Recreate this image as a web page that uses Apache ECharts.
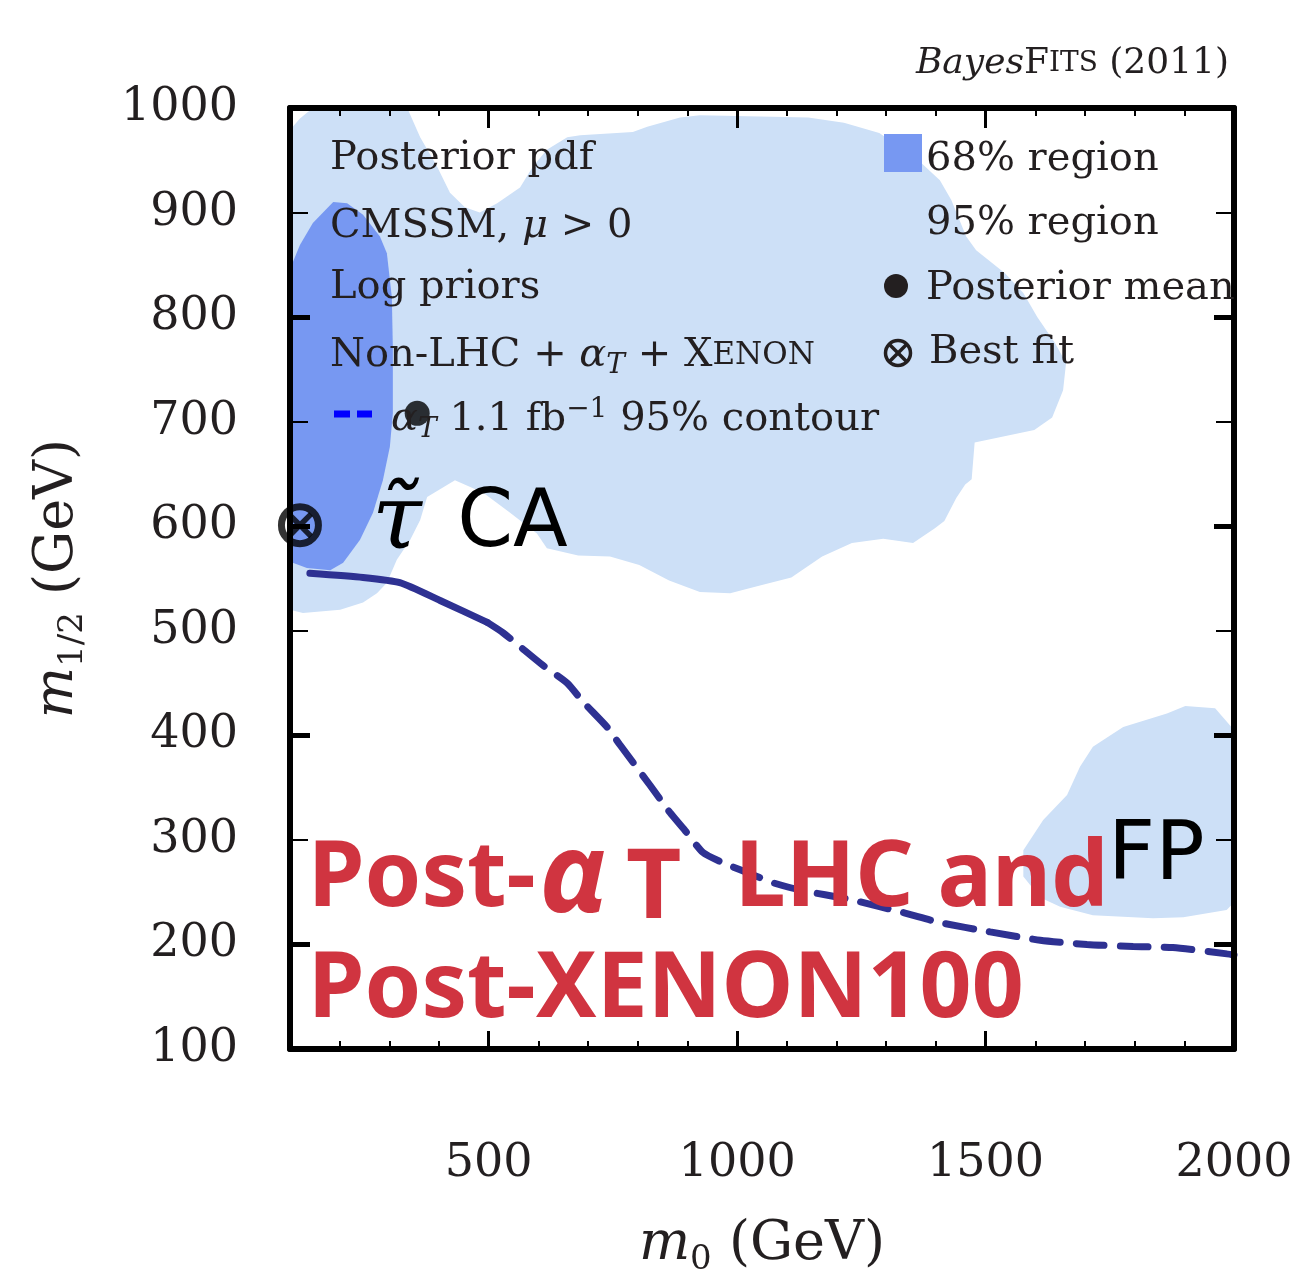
<!DOCTYPE html>
<html>
<head>
<meta charset="utf-8">
<title>CMSSM posterior, m0 - m1/2</title>
<script src="https://cdn.jsdelivr.net/npm/echarts@6/dist/echarts.min.js"></script>
<style>
    html, body { margin: 0; padding: 0; background: #fff; }
    #chart { width: 1309px; height: 1275px; }
</style>
</head>
<body>
<div id="chart"></div>
<script>
// 数据: [m0, m1/2] (GeV)
// 95% 区域 (主体, stau CA)
const region95Main = [
    [100, 979], [120, 990], [146, 1000], [336, 1000], [362, 972], [396, 944], [422, 919], [452, 905],
    [482, 900], [517, 909], [563, 924], [589, 944], [617, 960], [658, 972], [684, 974], [790, 977],
    [819, 982], [885, 991], [925, 993], [1143, 991], [1215, 986], [1286, 976], [1358, 953], [1408, 931],
    [1431, 912], [1461, 877], [1481, 864], [1539, 842], [1576, 823], [1604, 800], [1640, 775], [1662, 756],
    [1656, 730], [1634, 704], [1598, 692], [1478, 680], [1472, 645], [1459, 640], [1441, 627], [1417, 605],
    [1398, 598], [1354, 584], [1294, 588], [1231, 584], [1171, 571], [1109, 551], [1044, 543], [986, 536],
    [925, 537], [863, 548], [803, 563], [744, 571], [680, 572], [617, 579], [597, 593], [543, 613],
    [489, 632], [432, 644], [376, 628], [362, 606], [342, 587], [315, 568], [295, 546], [275, 536],
    [247, 527], [201, 520], [126, 517], [100, 520]
]
// 95% 区域 (FP)
const region95FP = [
    [1576, 290], [1616, 319], [1664, 343], [1690, 370], [1716, 389], [1777, 408], [1865, 421], [1902, 428],
    [1962, 426], [2000, 405], [2000, 240], [1985, 233], [1898, 226], [1837, 225], [1716, 228], [1650, 236],
    [1610, 245], [1576, 265]
]
// 68% 区域
const region68 = [
    [100, 840], [106, 853], [120, 869], [146, 890], [187, 910], [215, 909], [247, 898], [281, 877],
    [295, 861], [305, 819], [307, 771], [307, 708], [301, 676], [287, 644], [267, 613], [241, 587],
    [207, 565], [181, 558], [134, 560], [100, 566]
]
// alpha_T 1.1 fb^-1 95% contour
const contourAlphaT = [
    [140, 555], [247, 551], [321, 546], [402, 529], [497, 508], [529, 498], [609, 467], [658, 450],
    [690, 432], [738, 408], [764, 391], [825, 352], [865, 326], [895, 309], [931, 288], [972, 278],
    [1040, 265], [1072, 259], [1127, 252], [1227, 243], [1338, 230], [1408, 221], [1509, 212], [1610, 204],
    [1704, 200], [1797, 198], [1877, 197], [1986, 191], [2000, 190]
]
const posteriorMean = [[356, 708]]
const bestFit = [[120, 601]]

// 刻度
const xMinorTicks = [100, 200, 300, 400, 500, 600, 700, 800, 900, 1000, 1100, 1200, 1300, 1400, 1500, 1600, 1700, 1800, 1900, 2000]
const xMajorTicks = [500, 1000, 1500]
const xLabels = [500, 1000, 1500, 2000]
const yMajorTicks = [200, 400, 600, 800]

// 颜色
const c68 = '#7798f2'
const c95 = '#cde0f7'
const cLine = '#2e3192'
const cRed = '#d03440'
const cText = '#231f20'
const serif = 'DejaVu Serif'

// 多边形区域，用 custom series 画，坐标通过 api.coord 换算
function regionSeries(points, color, z) {
    return {
        type: 'custom',
        silent: true,
        z: z,
        data: [points[0]],
        renderItem: function (params, api) {
            return {
                type: 'polygon',
                shape: { points: points.map(p => api.coord(p)) },
                style: { fill: color }
            }
        }
    }
}

const baseAxis = {
    type: 'value',
    z: 10,
    splitLine: { show: false },
    axisLine: { show: false },
    axisLabel: { show: false },
    axisTick: { show: false }
}

function xAxisOf(pos, ticks, len, width, extra) {
    return Object.assign({}, baseAxis, {
        min: 100, max: 2000, position: pos,
        axisTick: { show: true, inside: true, length: len, customValues: ticks, lineStyle: { color: '#000', width: width } }
    }, extra || {})
}
function yAxisOf(pos, len, width, extra) {
    return Object.assign({}, baseAxis, {
        min: 100, max: 1000, interval: 100, position: pos,
        axisTick: { show: true, inside: true, length: len, lineStyle: { color: '#000', width: width } }
    }, extra || {})
}

const frameLine = { show: true, onZero: false, lineStyle: { color: '#000', width: 6 } }
const plain = v => String(v)

const nameRich = {
    n: { fontFamily: serif, fontSize: 54, color: cText, lineHeight: 64 },
    i: { fontFamily: serif, fontSize: 54, fontStyle: 'italic', color: cText, lineHeight: 64 },
    s: { fontFamily: serif, fontSize: 34, color: cText, lineHeight: 36, verticalAlign: 'bottom' }
}

// 图中文字，z 要比 series 高
function label(x, y, text, rich) {
    const st = rich ? { text: text, rich: rich } : { text: text, font: '40px "DejaVu Serif"', fill: cText }
    return { type: 'text', x: x, y: y, z: 100, style: st }
}
const legendRich = {
    n: { fontFamily: serif, fontSize: 40, fill: cText, lineHeight: 48 },
    i: { fontFamily: serif, fontSize: 40, fontStyle: 'italic', fill: cText, lineHeight: 48 },
    s: { fontFamily: serif, fontSize: 28, fontStyle: 'italic', fill: cText, lineHeight: 26, verticalAlign: 'bottom' },
    p: { fontFamily: serif, fontSize: 28, fill: cText, lineHeight: 26, verticalAlign: 'top' },
    sc: { fontFamily: serif, fontSize: 31, fill: cText, lineHeight: 48 }
}

const option = {
    animation: false,
    backgroundColor: '#fff',
    grid: { left: 290, right: 75, top: 108, bottom: 226, outerBoundsMode: 'none' },
    xAxis: [
        xAxisOf('bottom', xMinorTicks, 8, 2, {
            axisLine: frameLine,
            axisLabel: { show: true, customValues: xLabels, formatter: plain, margin: 92, fontFamily: serif, fontSize: 46, color: cText },
            name: '{i|m}{s|0}{n| (GeV)}',
            nameLocation: 'middle',
            nameGap: 164,
            nameTextStyle: { rich: nameRich }
        }),
        xAxisOf('bottom', xMajorTicks, 18, 3),
        xAxisOf('top', xMinorTicks, 8, 2, { axisLine: frameLine }),
        xAxisOf('top', xMajorTicks, 20, 3)
    ],
    yAxis: [
        yAxisOf('left', 18, 2, {
            axisLine: frameLine,
            axisLabel: { show: true, formatter: plain, margin: 52, fontFamily: serif, fontSize: 46, color: cText },
            name: '{i|m}{s|1/2}{n| (GeV)}',
            nameLocation: 'middle',
            nameRotate: 90,
            nameGap: 200,
            nameTextStyle: { rich: nameRich }
        }),
        yAxisOf('left', 20, 5, { axisTick: { show: true, inside: true, length: 20, customValues: yMajorTicks, lineStyle: { color: '#000', width: 5 } } }),
        yAxisOf('right', 18, 2, { axisLine: frameLine }),
        yAxisOf('right', 20, 5, { axisTick: { show: true, inside: true, length: 20, customValues: yMajorTicks, lineStyle: { color: '#000', width: 5 } } })
    ],
    series: [
        regionSeries(region95Main, c95, 1),
        regionSeries(region95FP, c95, 1),
        regionSeries(region68, c68, 2),
        {
            // 等高线开头一段是实线
            type: 'line',
            data: contourAlphaT.slice(0, 5),
            showSymbol: false,
            smooth: 0.2,
            z: 3,
            lineStyle: { color: cLine, width: 7, cap: 'round' }
        },
        {
            type: 'line',
            data: contourAlphaT.slice(4),
            showSymbol: false,
            smooth: 0.2,
            z: 3,
            lineStyle: { color: cLine, width: 7, type: [28, 16], cap: 'round' }
        },
        {
            // 后验均值
            type: 'scatter',
            data: posteriorMean,
            symbol: 'circle',
            symbolSize: 25,
            z: 4,
            itemStyle: { color: '#000' }
        },
        {
            // 最佳拟合 ⊗
            type: 'scatter',
            data: bestFit,
            symbol: 'circle',
            symbolSize: 37,
            z: 4,
            itemStyle: { color: 'rgba(0,0,0,0)', borderColor: '#000', borderWidth: 7 }
        },
        {
            type: 'scatter',
            data: bestFit,
            symbol: 'path://M0,1.5L1.5,0L5,3.5L8.5,0L10,1.5L6.5,5L10,8.5L8.5,10L5,6.5L1.5,10L0,8.5L3.5,5Z',
            symbolSize: 26,
            z: 4,
            itemStyle: { color: '#000' }
        }
    ],
    graphic: [
        // 右上角标题
        {
            type: 'text', right: 80, top: 46, z: 100,
            style: {
                text: '{it|Bayes}{f|F}{sc|ITS}{n| (2011)}',
                rich: {
                    it: { fontFamily: serif, fontSize: 36, fontStyle: 'italic', fill: cText, lineHeight: 44 },
                    f: { fontFamily: serif, fontSize: 36, fill: cText, lineHeight: 44 },
                    sc: { fontFamily: serif, fontSize: 28, fill: cText, lineHeight: 44 },
                    n: { fontFamily: serif, fontSize: 36, fill: cText, lineHeight: 44 }
                }
            }
        },
        // 左侧说明
        {
            type: 'group', left: 330, top: 139, z: 100,
            children: [
                label(0, 0, 'Posterior pdf'),
                label(0, 64, '{n|CMSSM, }{i|μ}{n| > 0}', legendRich),
                label(0, 129, 'Log priors'),
                label(0, 193, '{n|Non-LHC + }{i|α}{s|T}{n| + X}{sc|ENON}', legendRich),
                { type: 'line', z: 100, shape: { x1: 4, y1: 275, x2: 20, y2: 275 }, style: { stroke: '#0000ff', lineWidth: 7 } },
                { type: 'line', z: 100, shape: { x1: 27, y1: 275, x2: 42, y2: 275 }, style: { stroke: '#0000ff', lineWidth: 7 } },
                label(61, 257, '{i|α}{s|T}{n| 1.1 fb}{p|−1}{n| 95% contour}', legendRich)
            ]
        },
        // 右侧图例
        {
            type: 'group', left: 883, top: 134, z: 100,
            children: [
                { type: 'rect', z: 100, shape: { x: 0, y: 1, width: 38, height: 38 }, style: { fill: c68 } },
                label(42, 7, '68% region'),
                { type: 'rect', z: 100, shape: { x: 0, y: 66, width: 38, height: 38 }, style: { fill: c95 } },
                label(42, 71, '95% region'),
                { type: 'circle', z: 100, shape: { cx: 12, cy: 153, r: 12 }, style: { fill: '#231f20' } },
                label(42, 136, 'Posterior mean'),
                { type: 'circle', z: 100, shape: { cx: 14, cy: 220, r: 12.5 }, style: { fill: 'none', stroke: '#231f20', lineWidth: 3.5 } },
                { type: 'line', z: 100, shape: { x1: 6, y1: 212, x2: 22, y2: 228 }, style: { stroke: '#231f20', lineWidth: 3.5 } },
                { type: 'line', z: 100, shape: { x1: 22, y1: 212, x2: 6, y2: 228 }, style: { stroke: '#231f20', lineWidth: 3.5 } },
                label(45, 200, 'Best fit')
            ]
        },
        // 区域标注
        {
            type: 'text', left: 372, top: 480, z: 100,
            style: {
                text: '{t|τ̃}{c| CA}',
                rich: {
                    t: { fontFamily: serif, fontSize: 90, fontStyle: 'italic', fill: '#000', lineHeight: 94, padding: [0, 10, 0, 0] },
                    c: { fontFamily: 'DejaVu Sans', fontSize: 80, fill: '#000', lineHeight: 94 }
                }
            }
        },
        {
            type: 'text', left: 1108, top: 817, z: 100,
            style: { text: 'FP', font: '82px "DejaVu Sans"', fill: '#000' }
        },
        // 红字
        {
            type: 'text', left: 308, top: 824, z: 100,
            style: {
                text: '{b|Post-}{a|α}{t|T}{b|  LHC and}\n{b|Post-XENON100}',
                rich: {
                    b: { fontFamily: 'Noto Sans', fontWeight: 'bold', fontSize: 91, fill: cRed, lineHeight: 105 },
                    a: { fontFamily: 'Noto Sans', fontWeight: 'bold', fontStyle: 'italic', fontSize: 112, fill: cRed, lineHeight: 118, padding: [0, 12, 0, 4] },
                    t: { fontFamily: 'Noto Sans', fontWeight: 'bold', fontSize: 96, fill: cRed, lineHeight: 74, verticalAlign: 'bottom', padding: [0, 6, 0, 6] }
                }
            }
        }
    ]
}

const chart = echarts.init(document.getElementById('chart'))
chart.setOption(option)
</script>
</body>
</html>
